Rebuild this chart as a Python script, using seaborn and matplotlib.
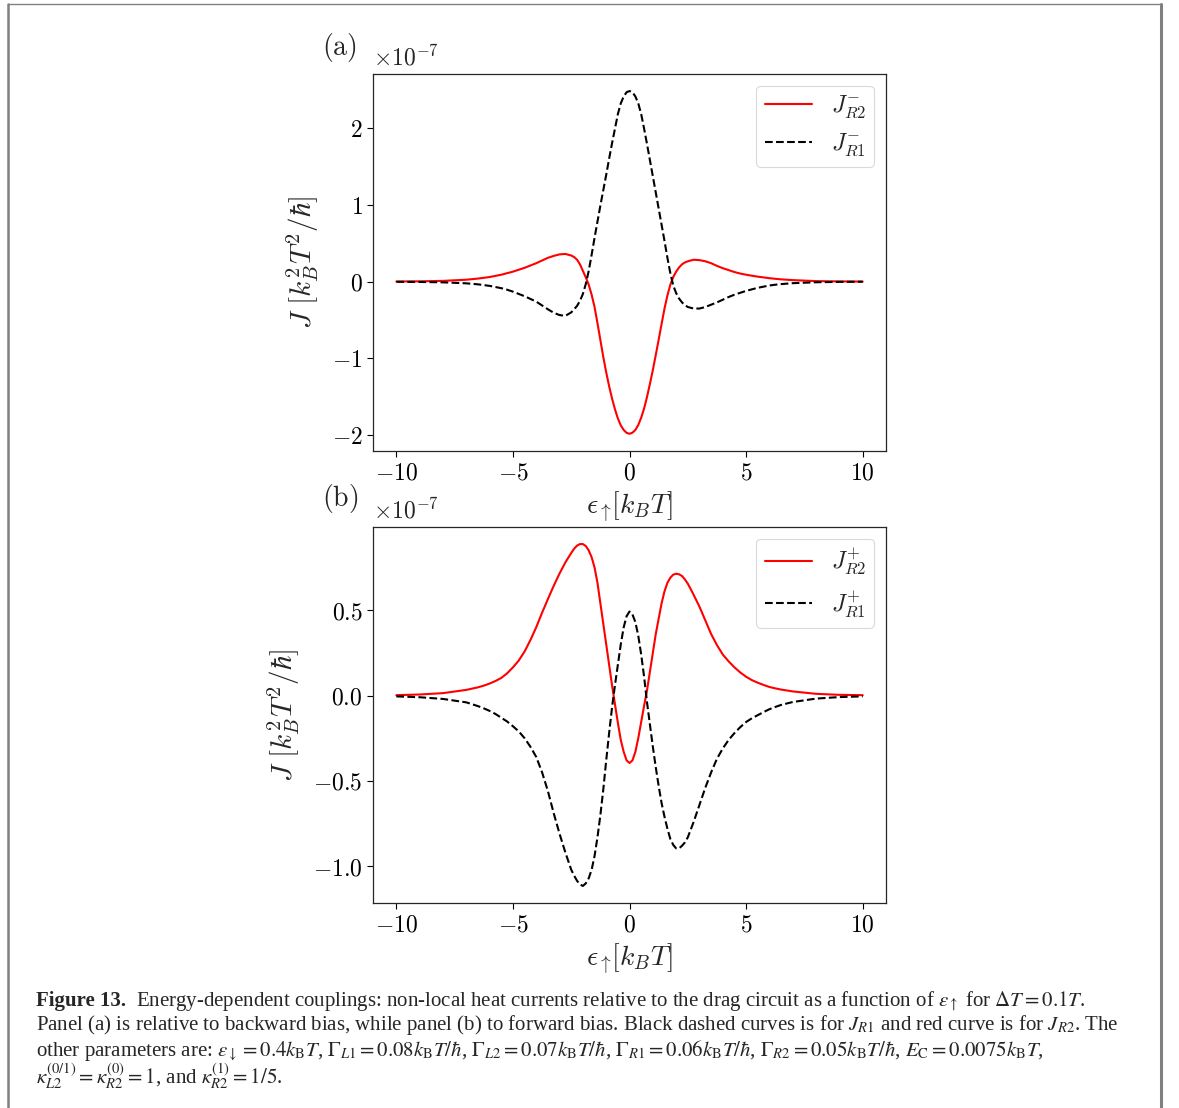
import numpy as np
import pandas as pd
import matplotlib
matplotlib.use("Agg")
import matplotlib.pyplot as plt
from matplotlib.lines import Line2D
from matplotlib.ticker import FuncFormatter
import seaborn as sns

# energy grid (epsilon_up in k_B T), finer in the middle where the curves bend most
eps = [-10, -9, -8, -7, -6.5, -6.25, -6, -5.75, -5.5, -5.25, -5, -4.75, -4.5, -4.25,
       -4, -3.75, -3.5, -3.25, -3, -2.75,
       -2.5, -2.375, -2.25, -2.125, -2, -1.875, -1.75, -1.625, -1.5, -1.375, -1.25, -1.125,
       -1, -0.875, -0.75, -0.625, -0.5, -0.375, -0.25, -0.125, 0,
       0.125, 0.25, 0.375, 0.5, 0.625, 0.75, 0.875, 1, 1.125, 1.25, 1.375, 1.5,
       1.625, 1.75, 1.875, 2, 2.125, 2.25, 2.375, 2.5,
       2.75, 3, 3.25, 3.5, 3.75, 4,
       4.25, 4.5, 4.75, 5, 5.25, 5.5, 5.75, 6, 6.25, 6.5, 7, 8, 9, 10]

# panel (a), backward bias, units of 1e-7
jr2_minus = [0.002, 0.004, 0.01, 0.025, 0.04, 0.05, 0.06, 0.075, 0.09, 0.11, 0.13, 0.155, 0.18, 0.21,
             0.24, 0.275, 0.31, 0.335, 0.355, 0.36,
             0.34, 0.32, 0.285, 0.225, 0.14, 0.055, -0.04, -0.17, -0.33, -0.54, -0.76, -0.98,
             -1.18, -1.36, -1.52, -1.66, -1.78, -1.87, -1.93, -1.967, -1.98,
             -1.965, -1.93, -1.865, -1.77, -1.65, -1.50, -1.33, -1.15, -0.955, -0.755, -0.55, -0.35,
             -0.18, -0.04, 0.06, 0.13, 0.185, 0.225, 0.25, 0.265,
             0.285, 0.28, 0.265, 0.24, 0.205, 0.175,
             0.15, 0.125, 0.105, 0.09, 0.077, 0.065, 0.055, 0.045, 0.037, 0.03, 0.02, 0.007, 0.003, 0.001]
jr1_minus = [-0.002, -0.004, -0.009, -0.022, -0.035, -0.045, -0.055, -0.07, -0.085, -0.105, -0.13, -0.16, -0.19, -0.225,
             -0.26, -0.31, -0.36, -0.405, -0.435, -0.445,
             -0.40, -0.36, -0.315, -0.25, -0.16, -0.03, 0.14, 0.35, 0.57, 0.78, 0.99, 1.19,
             1.39, 1.60, 1.80, 1.99, 2.18, 2.32, 2.41, 2.465, 2.48,
             2.465, 2.41, 2.32, 2.18, 1.99, 1.79, 1.58, 1.37, 1.16, 0.95, 0.74, 0.53,
             0.31, 0.11, -0.05, -0.15, -0.22, -0.27, -0.305, -0.33,
             -0.35, -0.35, -0.33, -0.30, -0.27, -0.235,
             -0.20, -0.17, -0.145, -0.12, -0.10, -0.08, -0.065, -0.05, -0.04, -0.032, -0.02, -0.008, -0.003, -0.001]

# panel (b), forward bias, units of 1e-7
jr2_plus = [0.002, 0.006, 0.014, 0.033, 0.048, 0.058, 0.07, 0.085, 0.103, 0.13, 0.165, 0.205, 0.258, 0.325,
            0.40, 0.485, 0.565, 0.643, 0.715, 0.78,
            0.835, 0.86, 0.878, 0.887, 0.887, 0.875, 0.85, 0.81, 0.75, 0.66, 0.54, 0.42,
            0.30, 0.18, 0.06, -0.05, -0.16, -0.26, -0.33, -0.38, -0.395,
            -0.38, -0.33, -0.25, -0.155, -0.06, 0.03, 0.14, 0.25, 0.36, 0.45, 0.54, 0.61,
            0.66, 0.69, 0.708, 0.713, 0.71, 0.70, 0.68, 0.655,
            0.59, 0.52, 0.44, 0.36, 0.295, 0.24,
            0.20, 0.165, 0.135, 0.11, 0.09, 0.075, 0.062, 0.05, 0.042, 0.035, 0.024, 0.01, 0.004, 0.002]
jr1_plus = [-0.005, -0.01, -0.02, -0.04, -0.062, -0.075, -0.09, -0.108, -0.13, -0.152, -0.18, -0.21, -0.25, -0.30,
            -0.36, -0.45, -0.56, -0.69, -0.81, -0.92,
            -1.02, -1.055, -1.085, -1.107, -1.115, -1.10, -1.07, -1.02, -0.94, -0.83, -0.70, -0.55,
            -0.38, -0.22, -0.07, 0.06, 0.18, 0.30, 0.40, 0.465, 0.492,
            0.475, 0.43, 0.35, 0.24, 0.11, -0.04, -0.17, -0.30, -0.42, -0.53, -0.63, -0.71,
            -0.78, -0.84, -0.875, -0.895, -0.895, -0.88, -0.86, -0.83,
            -0.74, -0.64, -0.54, -0.45, -0.37, -0.31,
            -0.26, -0.22, -0.185, -0.155, -0.133, -0.115, -0.097, -0.08, -0.067, -0.055, -0.038, -0.018, -0.009, -0.005]

yticks_a = [-2, -1, 0, 1, 2]
yticks_b = [-1.0, -0.5, 0.0, 0.5]
xticks = [-10, -5, 0, 5, 10]
scale = 1e-7

sns.set_style("ticks")
plt.rcParams["font.family"] = ["DejaVu Serif"]
plt.rcParams["mathtext.fontset"] = "cm"
plt.rcParams["axes.linewidth"] = 0.9
plt.rcParams["xtick.major.size"] = 4
plt.rcParams["ytick.major.size"] = 4

fig = plt.figure(figsize=(11.79, 11.08), dpi=100)
ax_a = fig.add_axes([0.3164, 0.5930, 0.4351, 0.3403])
ax_b = fig.add_axes([0.3164, 0.1850, 0.4351, 0.3394])


def draw_panel(ax, red, black, sign):
    df = pd.DataFrame({"eps": eps, "red": np.array(red) * scale, "black": np.array(black) * scale})
    sns.lineplot(data=df, x="eps", y="red", ax=ax, color="red", lw=1.5,
                 label=r"$J_{R2}^{%s}$" % sign)
    sns.lineplot(data=df, x="eps", y="black", ax=ax, color="black", lw=1.5,
                 linestyle="--", label=r"$J_{R1}^{%s}$" % sign)
    ax.set_xticks(xticks)
    ax.xaxis.set_major_formatter(FuncFormatter(lambda v, p: "$%g$" % v))
    ax.tick_params(labelsize=17, colors="black")
    ax.set_xlabel(r"$\epsilon_{\uparrow}\![k_BT]$", fontsize=20, labelpad=4)
    ax.set_ylabel(r"$J\ [k_B^2T^2/\hbar]$", fontsize=21, labelpad=8)
    ax.text(0.0, 1.01, r"$\times10^{-7}$", transform=ax.transAxes, fontsize=17,
            ha="left", va="bottom")
    leg = ax.legend(loc="upper right", fontsize=17, handlelength=2.0,
                    frameon=True, fancybox=True, borderpad=0.35, labelspacing=0.5)
    leg.get_frame().set_edgecolor("#d0d0d0")
    leg.get_frame().set_linewidth(0.8)


draw_panel(ax_a, jr2_minus, jr1_minus, "-")
draw_panel(ax_b, jr2_plus, jr1_plus, "+")

ax_a.set_yticks(np.array(yticks_a) * scale)
ax_b.set_yticks(np.array(yticks_b) * scale)
ax_a.yaxis.set_major_formatter(FuncFormatter(lambda v, p: "$%g$" % round(v / scale, 6)))
ax_b.yaxis.set_major_formatter(FuncFormatter(lambda v, p: "$%.1f$" % (v / scale)))

fig.text(0.2731, 0.9567, r"$\mathrm{(a)}$", fontsize=20, ha="left", va="center")
fig.text(0.2731, 0.5505, r"$\mathrm{(b)}$", fontsize=20, ha="left", va="center")

# caption
cap_y = [0.0965, 0.0745, 0.0520, 0.0285]
cap_kw = dict(fontsize=15, family="Liberation Serif", va="center", math_fontfamily="stix")
fig.text(0.0305, cap_y[0], "Figure 13.", fontweight="bold", **cap_kw)
fig.text(0.1155, cap_y[0],
         r"Energy-dependent couplings: non-local heat currents relative to the drag circuit as a function of "
         r"$\epsilon_{\uparrow}$ for $\Delta T = 0.1T$.", **cap_kw)
fig.text(0.0305, cap_y[1],
         r"Panel (a) is relative to backward bias, while panel (b) to forward bias. Black dashed curves is for "
         r"$J_{R1}$ and red curve is for $J_{R2}$. The", **cap_kw)
fig.text(0.0305, cap_y[2],
         r"other parameters are: $\epsilon_{\downarrow} = 0.4k_{\rm B}T$, $\Gamma_{L1} = 0.08k_{\rm B}T/\hbar$, "
         r"$\Gamma_{L2} = 0.07k_{\rm B}T/\hbar$, $\Gamma_{R1} = 0.06k_{\rm B}T/\hbar$, "
         r"$\Gamma_{R2} = 0.05k_{\rm B}T/\hbar$, $E_{\rm C} = 0.0075k_{\rm B}T$,", **cap_kw)
fig.text(0.0305, cap_y[3],
         r"$\kappa_{L2}^{(0/1)} = \kappa_{R2}^{(0)} = 1$, and $\kappa_{R2}^{(1)} = 1/5$.", **cap_kw)

# page frame
fig.add_artist(Line2D([0.0068, 0.0068], [0.0, 0.9965], transform=fig.transFigure, color="#808080", lw=1.8))
fig.add_artist(Line2D([0.0068, 0.9845], [0.9965, 0.9965], transform=fig.transFigure, color="#808080", lw=1.0))
fig.add_artist(Line2D([0.9845, 0.9845], [0.0, 0.9965], transform=fig.transFigure, color="#808080", lw=2.2))

fig.savefig("out.png", dpi=100)
